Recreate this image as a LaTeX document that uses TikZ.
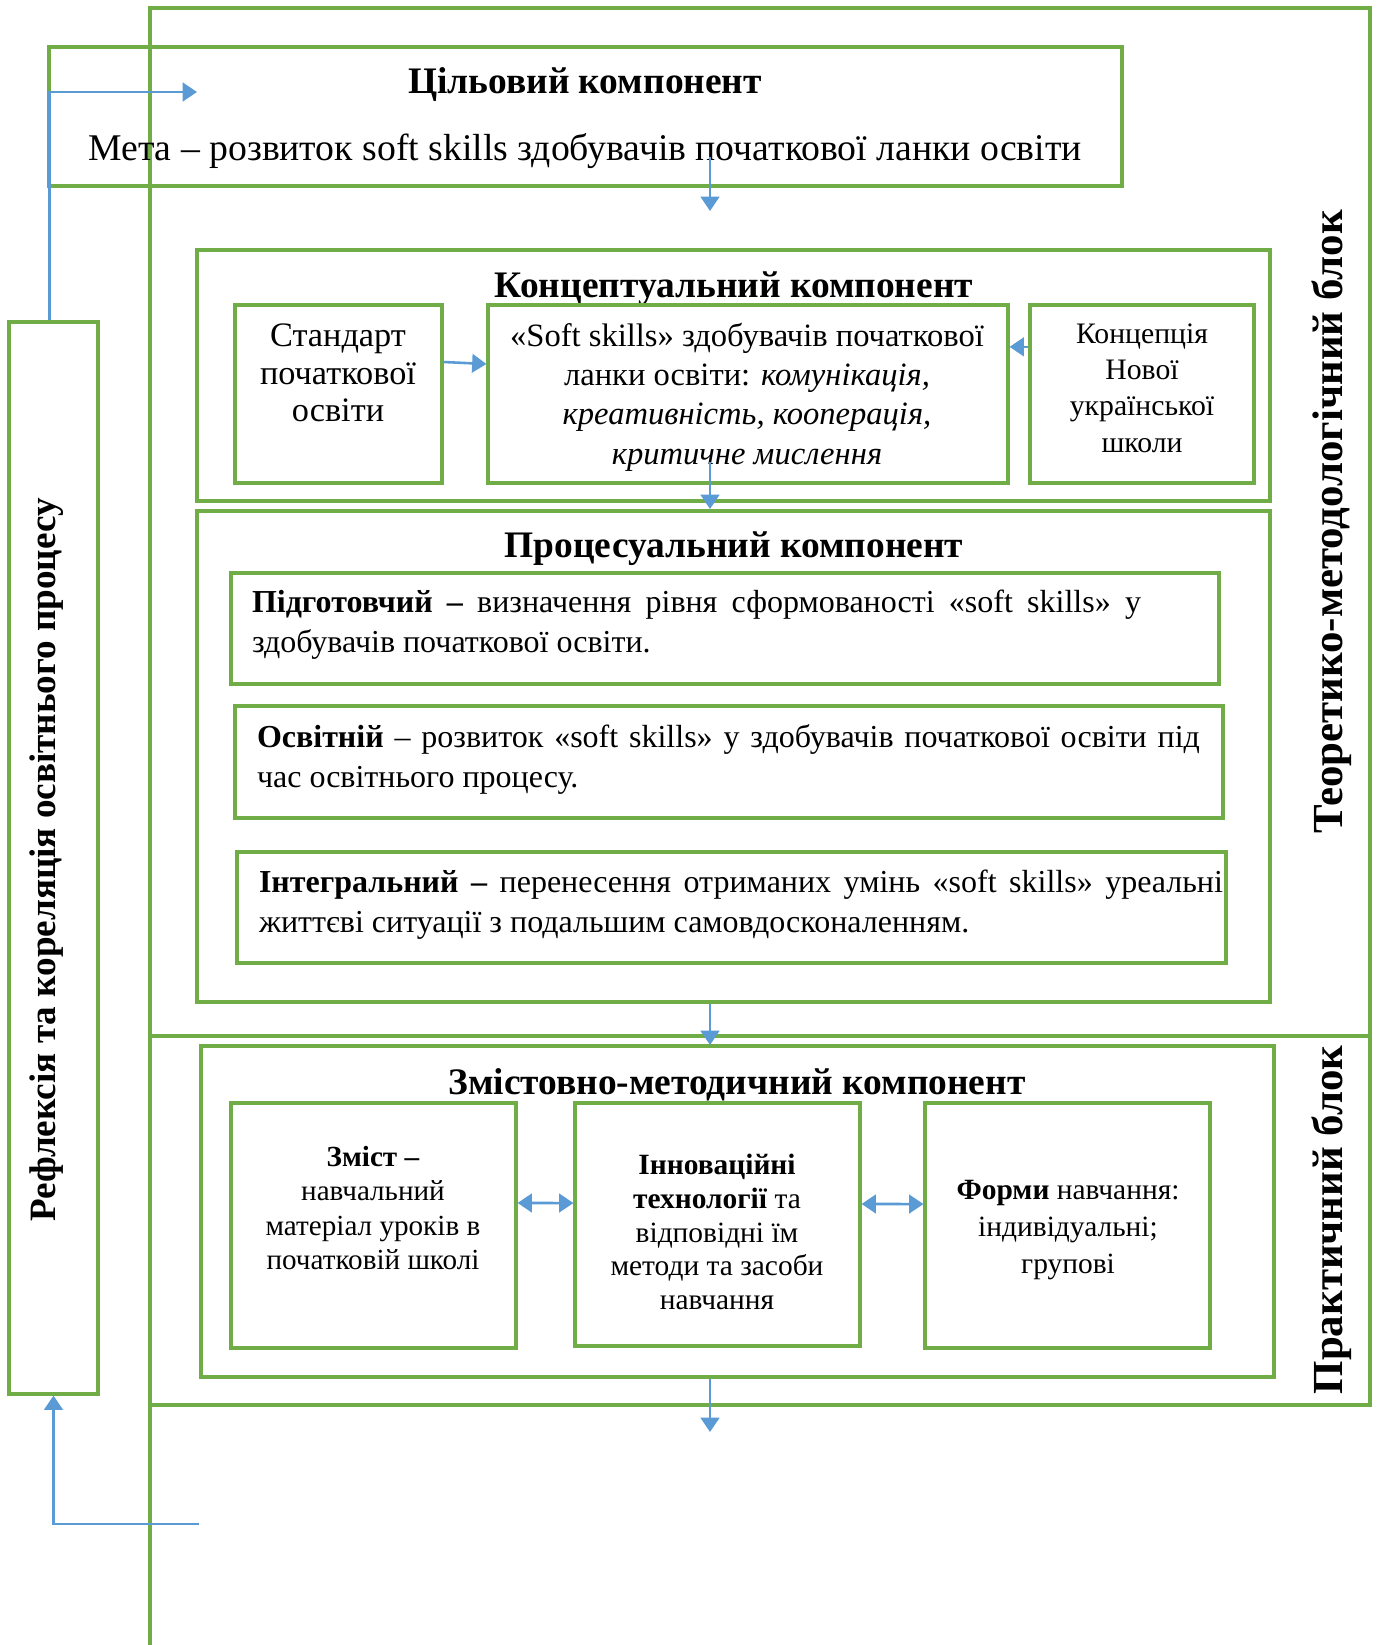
\documentclass[tikz,border=0pt]{standalone}
\usepackage{fontspec}
\setmainfont{Liberation Serif}
\usetikzlibrary{arrows.meta}
\definecolor{frgreen}{RGB}{112,173,71}
\definecolor{arblue}{RGB}{91,155,213}
\newcommand{\pxu}{0.35pt}
\hyphenpenalty=10000
\tikzset{
  frame/.style={draw=frgreen, line width=1.1pt},
  box/.style={draw=frgreen, line width=1.1pt, inner sep=0pt},
  sz/.style 2 args={minimum width=#1*\pxu, minimum height=#2*\pxu},
  ttl/.style={font=\fontsize{13.1}{15}\selectfont\bfseries, inner sep=0pt},
  txt/.style={font=\fontsize{12}{13.2}\selectfont, inner sep=0pt, align=center},
  par/.style={font=\fontsize{11.2}{14}\selectfont, inner sep=0pt, align=justify, text width=#1*\pxu},
  side/.style={font=\fontsize{15}{17}\selectfont\bfseries, inner sep=0pt, rotate=90},
  arr/.style={draw=arblue, line width=0.9pt, -{Triangle[length=5pt,width=6.5pt]}},
  darr/.style={draw=arblue, line width=0.9pt, {Triangle[length=5pt,width=6.5pt]}-{Triangle[length=5pt,width=6.5pt]}}
}

\begin{document}
\begin{tikzpicture}[x=0.35pt, y=-0.35pt]
  \useasboundingbox (0,0) rectangle (1377,1645);

  % blocks
  \draw[frame] (150,1645) -- (150,8) -- (1370,8) -- (1370,1405) -- (150,1405);
  \draw[frame] (150,1036) -- (1370,1036);
  \node[side] (theor) at (1332,522) {Теоретико-методологічний блок};
  \node[side] (pract) at (1332,1220) {Практичний блок};

  % reflection
  \node[box, sz={89}{1072}] (reflect) at (53.5,858) {};
  \node[side, font=\fontsize{13}{15}\selectfont\bfseries] (reflectt) at (47,860)
    {Рефлексія та кореляція освітнього процесу};

  % goal
  \node[box, sz={1073}{139}] (goal) at (585.5,116.5) {};
  \node[ttl] (goalt) at (585,85) {Цільовий компонент};
  \node[ttl, font=\fontsize{13.2}{15}\selectfont] (goalm) at (585,151)
    {Мета – розвиток soft skills здобувачів початкової ланки освіти};

  % conceptual
  \node[box, sz={1073}{251}] (concept) at (733.5,375.5) {};
  \node[ttl] (conceptt) at (734,289) {Концептуальний компонент};
  \node[box, sz={207}{178}] (standard) at (338.5,394) {};
  \node[box, sz={520}{178}] (softsk) at (748,394) {};
  \node[box, sz={224}{178}] (nus) at (1142,394) {};
  \node[txt] (standardt) at (338,373) {Стандарт\\початкової\\освіти};
  \node[txt, font=\fontsize{11.4}{13.8}\selectfont] (softskt) at (747,397) {«Soft skills» здобувачів початкової\\ланки освіти: \textit{комунікація,}\\\textit{креативність, кооперація,}\\\textit{критичне мислення}};
  \node[txt, font=\fontsize{10.4}{12.7}\selectfont] (nust) at (1142,388) {Концепція\\Нової\\української\\школи};

  % process
  \node[box, sz={1073}{491}] (process) at (733.5,756.5) {};
  \node[ttl] (processt) at (734,549) {Процесуальний компонент};
  \node[box, sz={988}{111}] (prep) at (725,628.5) {};
  \node[box, sz={988}{112}] (edu) at (729,762) {};
  \node[box, sz={989}{111}] (integr) at (731.5,907.5) {};
  \node[par=889] (prept) at (696.5,625) {\textbf{Підготовчий –} визначення рівня сформованості «soft skills» у\linebreak здобувачів початкової освіти.};
  \node[par=943] (edut) at (728.5,759) {\textbf{Освітній} – розвиток «soft skills» у здобувачів початкової освіти під\linebreak час освітнього процесу.};
  \node[par=964] (integrt) at (741,905) {\textbf{Інтегральний –} перенесення отриманих умінь «soft skills» уреальні\linebreak життєві ситуації з подальшим самовдосконаленням.};

  % content and methods
  \node[box, sz={1073}{331}] (content) at (737.5,1211.5) {};
  \node[ttl] (contentt) at (737,1085) {Змістовно-методичний компонент};
  \node[box, sz={285}{245}] (zmist) at (373.5,1225.5) {};
  \node[box, sz={285}{243}] (innov) at (717.5,1224.5) {};
  \node[box, sz={285}{245}] (forms) at (1067.5,1225.5) {};
  \node[txt, font=\fontsize{10.2}{12.1}\selectfont] (zmistt) at (373,1208) {\textbf{Зміст –}\\навчальний\\матеріал уроків в\\початковій школі};
  \node[txt, font=\fontsize{10.3}{11.8}\selectfont] (innovt) at (717,1232) {\textbf{Інноваційні}\\\textbf{технології} та\\відповідні їм\\методи та засоби\\навчання};
  \node[txt, font=\fontsize{10.3}{13}\selectfont] (formst) at (1068,1230) {\textbf{Форми} навчання:\\індивідуальні;\\групові};

  % connectors
  \coordinate (a1s) at (710,157);
  \coordinate (a1e) at (710,211);
  \coordinate (a2s) at (710,462);
  \coordinate (a2e) at (710,509);
  \coordinate (a3e) at (710,1045);
  \coordinate (a4e) at (710,1432);
  \coordinate (gtip) at (197,92);
  \coordinate (btail) at (199,1524);
  \draw[arr] (a1s) -- (a1e);
  \draw[arr] (a2s) -- (a2e);
  \draw[arr] (process.south -| a3e) -- (a3e);
  \draw[arr] (content.south -| a4e) -- (a4e);
  \draw[arr] ([yshift=11.2pt]standard.east) -- ([yshift=10.5pt]softsk.west);
  \draw[arr] ([yshift=16.5pt]nus.west) -- ([yshift=16.5pt]softsk.east);
  \draw[darr] ([yshift=7.9pt]zmist.east) -- ([yshift=7.5pt]innov.west);
  \draw[darr] ([yshift=7.2pt]innov.east) -- ([yshift=7.5pt]forms.west);
  \draw[arr] ([xshift=-1.5pt]reflect.north) |- (gtip);
  \draw[arr] (btail) -| (reflect.south);
\end{tikzpicture}
\end{document}
